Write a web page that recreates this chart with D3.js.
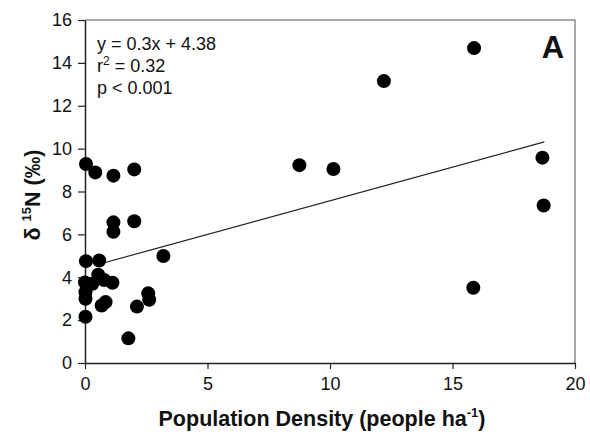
<!DOCTYPE html>
<html>
<head>
<meta charset="utf-8">
<script src="https://cdn.jsdelivr.net/npm/d3@7"></script>
<style>
    body { margin: 0; background: #fff; }
    svg text { font-family: "Liberation Sans", Arial, sans-serif; fill: #111; }
</style>
</head>
<body>
<svg id="chart"></svg>
<script>
    // population density (people/ha) and delta 15N values
    var density = [0.04, 0.42, 1.16, 2.01, 1.16, 1.16, 2.01, 0.04, 0.58, 0.54, 0.78,
        1.12, 0.0, 0.3, 0.02, 0.02, 0.02, 0.68, 0.84, 2.12, 2.58, 2.62, 1.77, 3.2,
        8.75, 10.14, 12.2, 15.88, 15.85, 18.67, 18.72];
    var d15N = [9.28, 8.89, 8.74, 9.03, 6.56, 6.12, 6.61, 4.75, 4.78, 4.12, 3.87,
        3.74, 3.76, 3.70, 3.30, 3.0, 2.16, 2.68, 2.84, 2.63, 3.25, 2.95, 1.15, 4.99,
        9.23, 9.05, 13.15, 14.69, 3.51, 9.58, 7.35];
    var xTicks = [0, 5, 10, 15, 20];
    var yTicks = [0, 2, 4, 6, 8, 10, 12, 14, 16];
    var fit = [0.314, 4.43];          // slope, intercept of drawn trend line
    var fitRange = [0.6, 18.75];
    var statLines = ['y = 0.3x + 4.38', 'r2', 'p < 0.001'];

    var width = 590;
    var height = 440;
    var plotLeft = 85, plotRight = 575, plotTop = 20, plotBottom = 363;

    var svg = d3.select('#chart')
        .attr('width', width)
        .attr('height', height);

    var x = d3.scaleLinear().domain([0, 20]).range([plotLeft, plotRight]);
    var y = d3.scaleLinear().domain([0, 16]).range([plotBottom, plotTop]);

    // frame (top and right in grey)
    svg.append('path')
        .attr('d', 'M' + plotLeft + ',' + plotTop + 'H' + plotRight + 'V' + plotBottom)
        .attr('fill', 'none')
        .attr('stroke', '#8a8a8a')
        .attr('stroke-width', 1.5);

    var xAxis = svg.append('g')
        .attr('transform', 'translate(0,' + plotBottom + ')')
        .call(d3.axisBottom(x).tickValues(xTicks).tickSize(6).tickPadding(8).tickSizeOuter(0));
    var yAxis = svg.append('g')
        .attr('transform', 'translate(' + plotLeft + ',0)')
        .call(d3.axisLeft(y).tickValues(yTicks).tickSize(7).tickPadding(6).tickSizeOuter(0));

    [xAxis, yAxis].forEach(function (g) {
        g.select('.domain').attr('stroke', '#222').attr('stroke-width', 1.5);
        g.selectAll('.tick line').attr('stroke', '#222').attr('stroke-width', 1.2);
        g.selectAll('.tick text')
            .attr('font-size', 18)
            .attr('font-family', '"Liberation Sans", Arial, sans-serif')
            .attr('fill', '#111');
    });

    // regression line
    svg.append('line')
        .attr('x1', x(fitRange[0]))
        .attr('y1', y(fit[0] * fitRange[0] + fit[1]))
        .attr('x2', x(fitRange[1]))
        .attr('y2', y(fit[0] * fitRange[1] + fit[1]))
        .attr('stroke', '#222')
        .attr('stroke-width', 1.2);

    svg.selectAll('circle.pt')
        .data(density)
        .enter()
        .append('circle')
        .classed('pt', true)
        .attr('cx', function (d) { return x(d); })
        .attr('cy', function (d, i) { return y(d15N[i]); })
        .attr('r', 7)
        .attr('fill', '#000');

    // stats text
    var stats = svg.append('g').attr('font-size', 18);
    stats.append('text').attr('x', 97).attr('y', 50).text(statLines[0]);
    var r2 = stats.append('text').attr('x', 97).attr('y', 72);
    r2.append('tspan').text('r');
    r2.append('tspan').attr('dy', -7).attr('font-size', 12).text('2');
    r2.append('tspan').attr('dy', 7).text(' = 0.32');
    stats.append('text').attr('x', 97).attr('y', 94).text(statLines[2]);

    svg.append('text')
        .attr('x', 553)
        .attr('y', 58)
        .attr('text-anchor', 'middle')
        .attr('font-size', 31)
        .attr('font-weight', 'bold')
        .text('A');

    // axis titles
    var xt = svg.append('text')
        .attr('x', 322)
        .attr('y', 426)
        .attr('text-anchor', 'middle')
        .attr('font-size', 21.5)
        .attr('font-weight', 'bold');
    xt.append('tspan').text('Population Density (people ha');
    xt.append('tspan').attr('dy', -9).attr('font-size', 13).text('-1');
    xt.append('tspan').attr('dy', 9).text(')');

    var yt = svg.append('text')
        .attr('transform', 'translate(40,195) rotate(-90)')
        .attr('text-anchor', 'middle')
        .attr('font-size', 21.5)
        .attr('font-weight', 'bold');
    yt.append('tspan').text('\u03b4 ');
    yt.append('tspan').attr('dy', -9).attr('font-size', 13).text('15');
    yt.append('tspan').attr('dy', 9).text('N (\u2030)');
</script>
</body>
</html>
